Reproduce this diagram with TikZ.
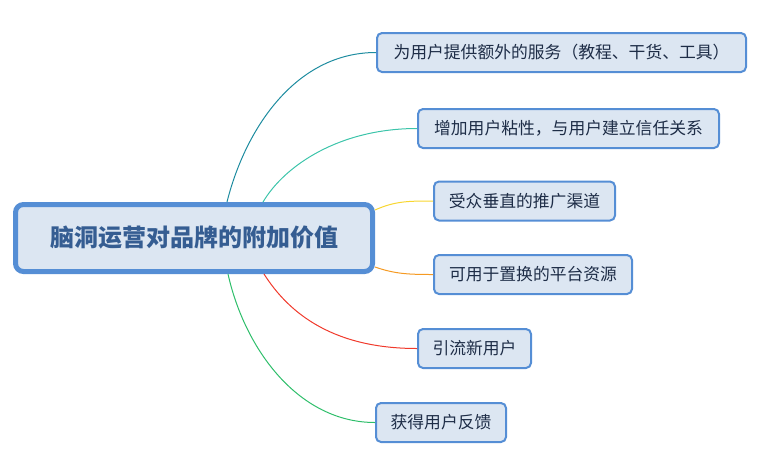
\documentclass[tikz,border=0pt]{standalone}
\usepackage{fontspec}
\setmainfont{Noto Sans CJK SC}
\usetikzlibrary{calc}
\definecolor{boxfill}{HTML}{DCE6F2}
\definecolor{boxdraw}{HTML}{558ED5}
\definecolor{maintext}{HTML}{355D92}
\definecolor{subtext}{HTML}{1E2D47}
\definecolor{cteal}{HTML}{1E8CA0}
\definecolor{cturq}{HTML}{3CC4AA}
\definecolor{cyellow}{HTML}{F8D630}
\definecolor{corange}{HTML}{F59A23}
\definecolor{cred}{HTML}{F0392B}
\definecolor{cgreen}{HTML}{2EBE6A}
\begin{document}
\begin{tikzpicture}[x=1pt,y=-1pt,
  mainbox/.style={draw=boxdraw,fill=boxfill,line width=5pt,rounded corners=8pt,
    minimum width=357pt,minimum height=67pt,inner sep=0pt,
    font=\fontsize{24}{26}\selectfont\bfseries,text=maintext},
  subbox/.style={draw=boxdraw,fill=boxfill,line width=2pt,rounded corners=5pt,
    minimum height=39pt,inner sep=0pt,
    font=\fontsize{16.8}{19}\selectfont,text=subtext},
  conn/.style={line width=1pt}]
\useasboundingbox (0,0) rectangle (763,456);
\node[mainbox] (c) at (194,238) {脑洞运营对品牌的附加价值};
\node[subbox,minimum width=369pt] (b1) at (561.5,52.5) {为用户提供额外的服务（教程、干货、工具）};
\node[subbox,minimum width=301pt] (b2) at (568.5,128.5) {增加用户粘性，与用户建立信任关系};
\node[subbox,minimum width=181pt] (b3) at (524.5,201) {受众垂直的推广渠道};
\node[subbox,minimum width=198pt] (b4) at (533,274.5) {可用于置换的平台资源};
\node[subbox,minimum width=113pt] (b5) at (474.5,348.5) {引流新用户};
\node[subbox,minimum width=130pt] (b6) at (441,422.5) {获得用户反馈};
\coordinate (s1) at ([xshift=33pt]c.north);
\coordinate (s2) at ([xshift=69pt]c.north);
\coordinate (s3) at ([yshift=28pt]c.east);
\coordinate (s4) at ([yshift=-29pt]c.east);
\coordinate (s5) at ([xshift=70pt]c.south);
\coordinate (s6) at ([xshift=34pt]c.south);
\draw[conn,cteal] (s1) .. controls ($(s1)+(18,-72)$) and ($(b1.west)+(-81,0)$) .. (b1.west);
\draw[conn,cturq] (s2) .. controls ($(s2)+(22,-37)$) and ($(b2.west)+(-77,0)$) .. (b2.west);
\draw[conn,cyellow] (s3) .. controls ($(s3)+(20,-9)$) and ($(b3.west)+(-24,0)$) .. (b3.west);
\draw[conn,corange] (s4) .. controls ($(s4)+(20,7)$) and ($(b4.west)+(-24,0)$) .. (b4.west);
\draw[conn,cred] (s5) .. controls ($(s5)+(26,41)$) and ($(b5.west)+(-82,0)$) .. (b5.west);
\draw[conn,cgreen] (s6) .. controls ($(s6)+(17,76)$) and ($(b6.west)+(-76,0)$) .. (b6.west);
\end{tikzpicture}
\end{document}
